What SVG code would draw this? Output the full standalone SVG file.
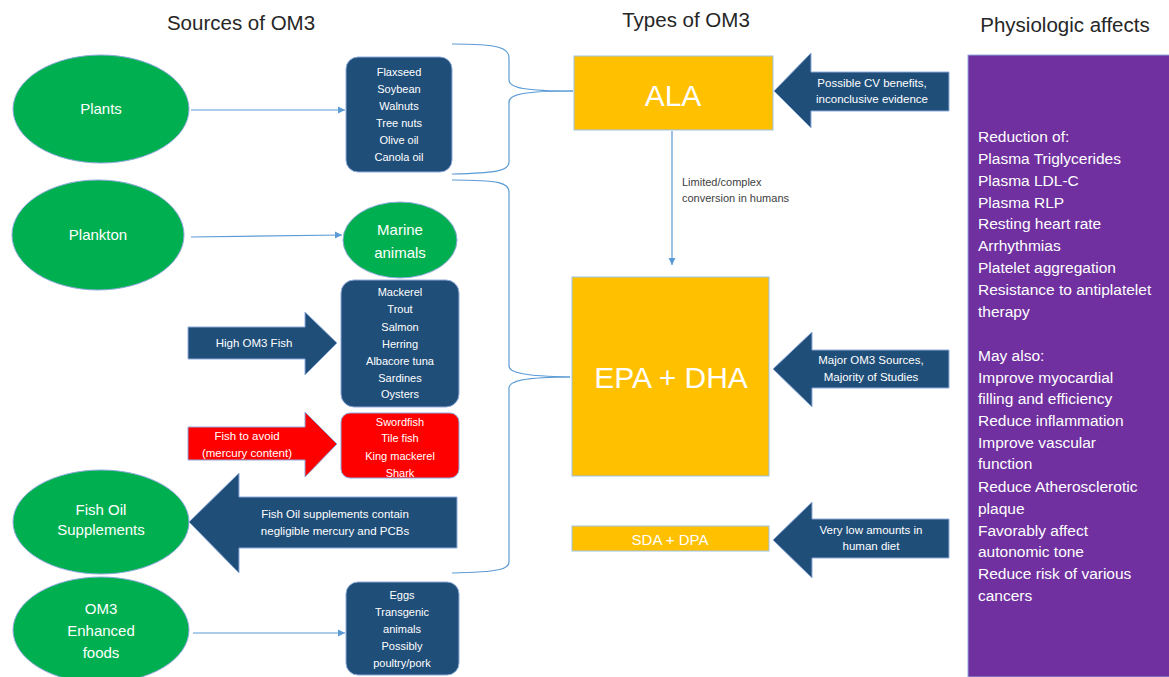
<svg xmlns="http://www.w3.org/2000/svg" width="1169" height="677" viewBox="0 0 1169 677">
<defs>
<marker id="ah" markerWidth="8" markerHeight="8" refX="7" refY="4" orient="auto" markerUnits="userSpaceOnUse">
<path d="M0,0.5 L7,4 L0,7.5 Z" fill="#5B9BD5"/>
</marker>
</defs>
<style>
text{font-family:"Liberation Sans",Arial,sans-serif;}
.title{font-size:20.5px;fill:#262626;text-anchor:middle;}
.ell{fill:#00B050;stroke:#8FAADC;stroke-width:1;}
.ellt{font-size:15px;fill:#FFFFFF;text-anchor:middle;}
.blue{fill:#1F4E79;stroke:#8FAADC;stroke-width:1;}
.red{fill:#FF0000;stroke:#8FAADC;stroke-width:1;}
.gold{fill:#FFC000;stroke:#9DC3E6;stroke-width:1;}
.purple{fill:#7030A0;stroke:#8FAADC;stroke-width:1;}
.bt{font-size:11px;fill:#FFFFFF;text-anchor:middle;}
.at{font-size:11.5px;fill:#FFFFFF;text-anchor:middle;}
.big{font-size:30px;fill:#FFFFFF;text-anchor:middle;}
.pt{font-size:15.5px;fill:#FFFFFF;}
.lbl{font-size:11px;fill:#404040;}
.conn{fill:none;stroke:#5B9BD5;stroke-width:1.2;}
</style>
<rect width="1169" height="677" fill="#FFFFFF"/>

<g id="titles">
<text class="title" x="241" y="30">Sources of OM3</text>
<text class="title" x="686" y="27">Types of OM3</text>
<text class="title" x="1065" y="32">Physiologic affects</text>
</g>

<g id="connectors">
<line class="conn" x1="191" y1="110" x2="345" y2="110" marker-end="url(#ah)"/>
<line class="conn" x1="191" y1="237" x2="342" y2="235" marker-end="url(#ah)"/>
<line class="conn" x1="193" y1="633" x2="345" y2="633" marker-end="url(#ah)"/>
<line class="conn" x1="672" y1="131" x2="672" y2="265" marker-end="url(#ah)"/>
<path class="conn" d="M452,44 C500,44 509,48 509,58 L509,80 C509,88 525,91 573,91"/>
<path class="conn" d="M573,91 C525,91 509,94 509,102 L509,162 C509,170 500,173 452,174"/>
<path class="conn" d="M452,180 C500,180 509,183 509,192 L509,366 C509,373 525,376 570,377"/>
<path class="conn" d="M570,377 C525,377 509,381 509,388 L509,562 C509,569 500,572 452,573"/>
<text class="lbl" x="682" y="186">Limited/complex</text>
<text class="lbl" x="682" y="202">conversion in humans</text>
</g>

<g id="plants">
<ellipse class="ell" cx="101" cy="109" rx="88" ry="54"/>
<text class="ellt" x="101" y="114">Plants</text>
</g>
<g id="plankton">
<ellipse class="ell" cx="98" cy="235" rx="86" ry="55"/>
<text class="ellt" x="98" y="240">Plankton</text>
</g>
<g id="fish-oil-supplements">
<ellipse class="ell" cx="101" cy="522" rx="88" ry="52"/>
<text class="ellt" x="101" y="515">Fish Oil</text>
<text class="ellt" x="101" y="535">Supplements</text>
</g>
<g id="om3-enhanced-foods">
<ellipse class="ell" cx="101" cy="630" rx="88" ry="53"/>
<text class="ellt" x="101" y="614">OM3</text>
<text class="ellt" x="101" y="636">Enhanced</text>
<text class="ellt" x="101" y="658">foods</text>
</g>

<g id="plant-sources">
<rect class="blue" x="346" y="57" width="106" height="115" rx="12"/>
<text class="bt" x="399" y="76">Flaxseed</text>
<text class="bt" x="399" y="93">Soybean</text>
<text class="bt" x="399" y="110">Walnuts</text>
<text class="bt" x="399" y="127">Tree nuts</text>
<text class="bt" x="399" y="144">Olive oil</text>
<text class="bt" x="399" y="161">Canola oil</text>
</g>

<g id="marine-animals">
<ellipse class="ell" cx="400" cy="240" rx="57" ry="38"/>
<text class="ellt" x="400" y="235">Marine</text>
<text class="ellt" x="400" y="258">animals</text>
</g>

<g id="high-om3-fish-list">
<rect class="blue" x="341" y="280" width="118" height="127" rx="13"/>
<text class="bt" x="400" y="296">Mackerel</text>
<text class="bt" x="400" y="313">Trout</text>
<text class="bt" x="400" y="331">Salmon</text>
<text class="bt" x="400" y="348">Herring</text>
<text class="bt" x="400" y="365">Albacore tuna</text>
<text class="bt" x="400" y="382">Sardines</text>
<text class="bt" x="400" y="398">Oysters</text>
</g>

<g id="high-om3-fish-arrow">
<path class="blue" d="M188,327 L305,327 L305,312 L337,343 L305,375 L305,359 L188,359 Z"/>
<text class="at" x="254" y="347">High OM3 Fish</text>
</g>

<g id="fish-to-avoid-list">
<rect class="red" x="341" y="413" width="118" height="65" rx="9"/>
<text class="bt" x="400" y="426">Swordfish</text>
<text class="bt" x="400" y="442">Tile fish</text>
<text class="bt" x="400" y="460">King mackerel</text>
<text class="bt" x="400" y="477">Shark</text>
</g>

<g id="fish-to-avoid-arrow">
<path class="red" d="M188,427 L305,427 L305,412 L337,444 L305,477 L305,460 L188,460 Z"/>
<text class="at" x="247" y="440">Fish to avoid</text>
<text class="at" x="247" y="457">(mercury content)</text>
</g>

<g id="fish-oil-arrow">
<path class="blue" d="M457,497 L239,497 L239,473 L189,522 L239,573 L239,548 L457,548 Z"/>
<text class="at" x="335" y="518">Fish Oil supplements contain</text>
<text class="at" x="335" y="535">negligible mercury and PCBs</text>
</g>

<g id="enhanced-sources">
<rect class="blue" x="346" y="582" width="113" height="93" rx="12"/>
<text class="bt" x="402" y="599">Eggs</text>
<text class="bt" x="402" y="616">Transgenic</text>
<text class="bt" x="402" y="633">animals</text>
<text class="bt" x="402" y="650">Possibly</text>
<text class="bt" x="402" y="667">poultry/pork</text>
</g>

<g id="ala">
<rect class="gold" x="574" y="56" width="199" height="74"/>
<text class="big" x="673" y="106">ALA</text>
</g>
<g id="ala-note">
<path class="blue" d="M949,72 L811,72 L811,53 L774,91 L811,128 L811,111 L949,111 Z"/>
<text class="at" x="872" y="87">Possible CV benefits,</text>
<text class="at" x="872" y="103">inconclusive evidence</text>
</g>

<g id="epa-dha">
<rect class="gold" x="572" y="277" width="197" height="199"/>
<text class="big" x="671" y="388">EPA + DHA</text>
</g>
<g id="epa-dha-note">
<path class="blue" d="M949,350 L812,350 L812,332 L773,369 L812,407 L812,388 L949,388 Z"/>
<text class="at" x="871" y="364">Major OM3 Sources,</text>
<text class="at" x="871" y="381">Majority of Studies</text>
</g>

<g id="sda-dpa">
<rect class="gold" x="572" y="526" width="197" height="25"/>
<text x="670" y="545" style="font-size:15px;fill:#FFFFFF;text-anchor:middle">SDA + DPA</text>
</g>
<g id="sda-dpa-note">
<path class="blue" d="M949,519 L812,519 L812,502 L773,540 L812,578 L812,558 L949,558 Z"/>
<text class="at" x="871" y="534">Very low amounts in</text>
<text class="at" x="871" y="550">human diet</text>
</g>

<g id="physiologic-affects">
<rect class="purple" x="968" y="55" width="205" height="622"/>
<text class="pt" x="978" y="142">Reduction of:</text>
<text class="pt" x="978" y="164">Plasma Triglycerides</text>
<text class="pt" x="978" y="186">Plasma LDL-C</text>
<text class="pt" x="978" y="208">Plasma RLP</text>
<text class="pt" x="978" y="229">Resting heart rate</text>
<text class="pt" x="978" y="251">Arrhythmias</text>
<text class="pt" x="978" y="273">Platelet aggregation</text>
<text class="pt" x="978" y="295">Resistance to antiplatelet</text>
<text class="pt" x="978" y="317">therapy</text>
<text class="pt" x="978" y="361">May also:</text>
<text class="pt" x="978" y="383">Improve myocardial</text>
<text class="pt" x="978" y="404">filling and efficiency</text>
<text class="pt" x="978" y="426">Reduce inflammation</text>
<text class="pt" x="978" y="448">Improve vascular</text>
<text class="pt" x="978" y="469">function</text>
<text class="pt" x="978" y="492">Reduce Atherosclerotic</text>
<text class="pt" x="978" y="514">plaque</text>
<text class="pt" x="978" y="536">Favorably affect</text>
<text class="pt" x="978" y="557">autonomic tone</text>
<text class="pt" x="978" y="579">Reduce risk of various</text>
<text class="pt" x="978" y="601">cancers</text>
</g>
</svg>
